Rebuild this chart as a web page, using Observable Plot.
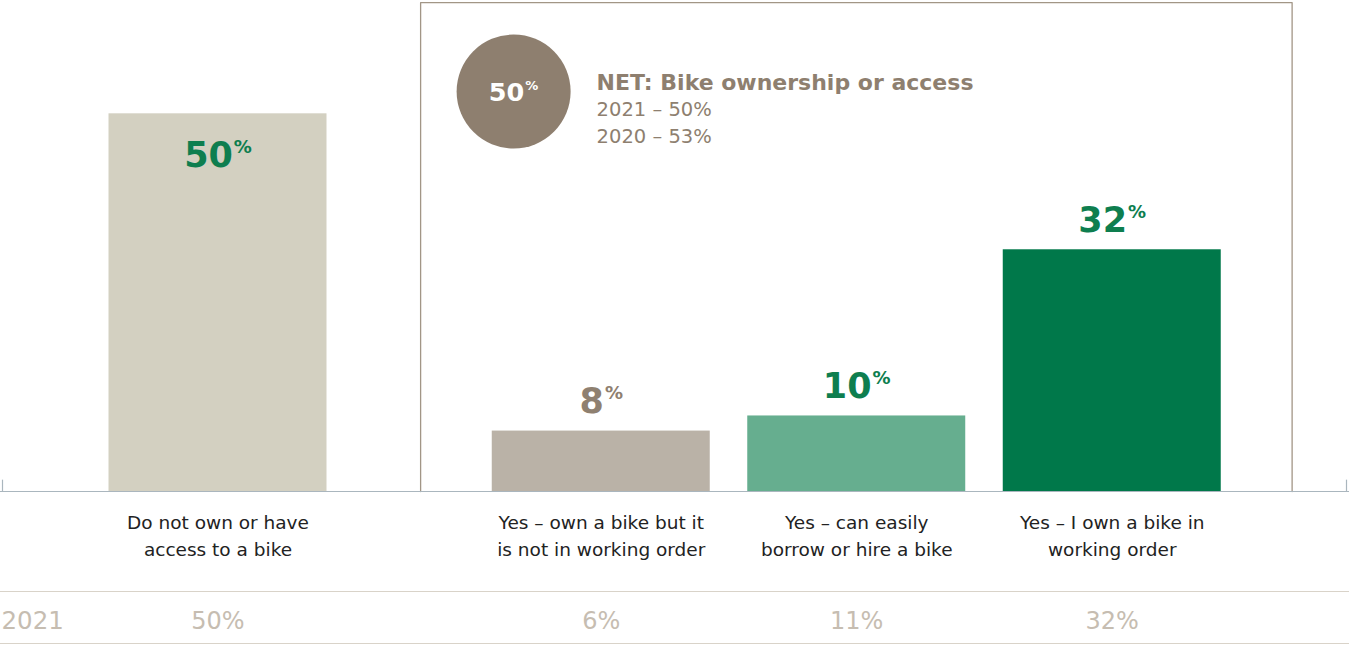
<!DOCTYPE html>
<html>
<head>
<meta charset="utf-8">
<script src="https://cdn.jsdelivr.net/npm/d3@7"></script>
<script src="https://cdn.jsdelivr.net/npm/@observablehq/plot@0.6"></script>
<style>
  html, body { margin: 0; padding: 0; background: #ffffff; }
  #chart { width: 1349px; height: 645px; overflow: hidden; }
</style>
</head>
<body>
<div id="chart"></div>
<script>
// ---- data ----
const categories = [
  "Do not own or have\naccess to a bike",
  "Yes – own a bike but it\nis not in working order",
  "Yes – can easily\nborrow or hire a bike",
  "Yes – I own a bike in\nworking order"
];
const groups = ["No", "Yes", "Yes", "Yes"];
const values = [50, 8, 10, 32];
const rowValues = [50, 6, 11, 32];
const rowLabel = "2021";
const barColors = ["#d3d0c1", "#bab2a7", "#66ae8f", "#00784a"];
const labelColors = ["#0e7e4f", "#8f8070", "#0e7e4f", "#0e7e4f"];
const netValue = 50;
const netTitle = "NET: Bike ownership or access";
const netLines = ["2021 – 50%", "2020 – 53%"];

// ---- layout helpers ----
const W = 1349, H = 645;
const barHalf = 0.4266;
const data = categories.map((c, i) => ({
  category: c,
  group: groups[i],
  value: values[i],
  row: rowValues[i] + "%",
  label: values[i] + "%",
  pos: i + (groups[i] === "Yes" ? 0.5 : 0),
  color: barColors[i],
  labelColor: labelColors[i]
}));
const yes = data.filter(d => d.group === "Yes");
const fx1 = d3.min(yes, d => d.pos) - 0.707;
const fx2 = d3.max(yes, d => d.pos) + 0.704;
const yMax = 65;
const fTop = yMax * 0.9958;
const xDomain = [-0.8513, 4.4286];
const net = [{value: netValue + "%", x: fx1 + 0.364, y: 52.95, title: netTitle, lines: netLines.join("\n")}];

const font = "'DejaVu Sans', Roboto, sans-serif";

const plot = Plot.plot({
  width: W,
  height: H,
  marginTop: 0,
  marginBottom: 154,
  marginLeft: 0,
  marginRight: 0,
  style: {fontFamily: font, background: "transparent"},
  x: {domain: xDomain, axis: null},
  y: {domain: [0, yMax], axis: null},
  marks: [
    // frame around the "Yes" group
    Plot.line([{x: fx1, y: 0}, {x: fx1, y: fTop}, {x: fx2, y: fTop}, {x: fx2, y: 0}],
      {x: "x", y: "y", stroke: "#a29686", strokeWidth: 1.3}),
    // bars
    Plot.rectY(data, {x1: d => d.pos - barHalf, x2: d => d.pos + barHalf, y1: 0, y2: "value", fill: "color"}),
    // baseline
    Plot.ruleY([0], {stroke: "#aab6be", strokeWidth: 1.2}),
    Plot.ruleX([xDomain[0]], {y1: 0, y2: 1.5, dx: 2, stroke: "#aab6be", strokeWidth: 1.2}),
    Plot.ruleX([xDomain[1]], {y1: 0, y2: 1.5, dx: -3, stroke: "#aab6be", strokeWidth: 1.2}),
    // value labels
    Plot.text(data, {
      x: "pos", y: "value", text: "label", fill: "labelColor",
      fontSize: 35, fontWeight: "bold"
    }),
    // category labels
    Plot.text(data, {
      x: "pos", y: 0, text: "category", fill: "#222222", fontSize: 18.5,
      lineAnchor: "top", lineHeight: 1.46, dy: 18
    }),
    // bottom row
    Plot.ruleY([0], {dy: 100, stroke: "#d9d3c9", strokeWidth: 1.2}),
    Plot.ruleY([0], {dy: 152, stroke: "#d9d3c9", strokeWidth: 1.2}),
    Plot.text([rowLabel], {x: xDomain[0], y: 0, text: d => d, dy: 130, dx: 1, textAnchor: "start", fill: "#c6bdb1", fontSize: 24.5}),
    Plot.text(data, {x: "pos", y: 0, text: "row", dy: 130, fill: "#c6bdb1", fontSize: 24}),
    // NET annotation
    Plot.dot(net, {x: "x", y: "y", r: 57, fill: "#8e7f6f", stroke: null}),
    Plot.text(net, {x: "x", y: "y", text: "value", fill: "#ffffff", fontSize: 25.5, fontWeight: "bold", dy: 1}),
    Plot.text(net, {x: "x", y: "y", text: "title", fill: "#8e7f6f", fontSize: 22, fontWeight: "bold", textAnchor: "start", dx: 83, dy: -9}),
    Plot.text(net, {x: "x", y: "y", text: "lines", fill: "#8e7f6f", fontSize: 19.5, textAnchor: "start", lineAnchor: "top", lineHeight: 1.38, dx: 83, dy: 5})
  ]
});

const svg = d3.select(plot);
document.getElementById("chart").appendChild(plot);

// superscript the % sign in bold value labels
svg.selectAll("g").filter(function() { return this.getAttribute("font-weight") === "bold"; })
  .selectAll("text")
  .filter(function() { return /^\d+%$/.test(this.textContent); })
  .each(function() {
    const t = this.textContent.replace("%", "");
    const sel = d3.select(this);
    const fs = parseFloat(this.parentNode.getAttribute("font-size")) || 35;
    const ps = Math.round(fs * 0.52);
    sel.text(null);
    sel.append("tspan").text(t);
    sel.append("tspan").attr("font-size", ps).attr("dx", 1).attr("dy", -(0.729 * (fs - ps) + 1.5)).text("%");
  });

// per-bar label offsets: inside for the "No" bar, above for the others
const valueGroup = svg.selectAll("g").filter(function() {
  return this.getAttribute("font-size") === "35";
});
valueGroup.selectAll("text").each(function(_, i) {
  const off = data[i].group === "No" ? 42 : -29;
  const tr = this.getAttribute("transform") || "";
  const m = /translate\(([-\d.]+),([-\d.]+)\)/.exec(tr);
  if (m) this.setAttribute("transform", `translate(${m[1]},${+m[2] + off})`);
  else {
    const y = +this.getAttribute("y");
    this.setAttribute("y", y + off);
  }
});
</script>
</body>
</html>
